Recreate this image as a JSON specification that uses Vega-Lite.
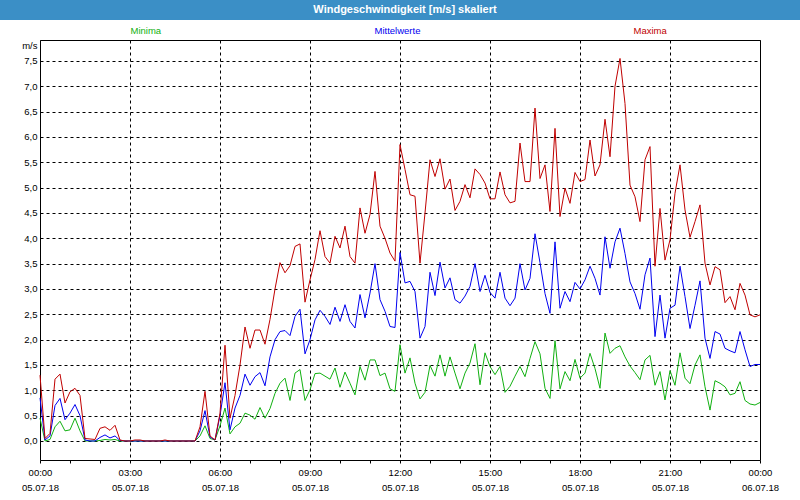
{
  "$schema": "https://vega.github.io/schema/vega-lite/v6.json",
  "autosize": {"type": "pad"},
  "padding": 0,
  "background": "white",
  "bounds": "flush",
  "center": true,
  "spacing": 20,
  "config": {"font": "Liberation Sans", "view": {"stroke": null}},
  "vconcat": [
    {
      "width": 800,
      "height": 20,
      "view": {"fill": "#3b8fc6", "stroke": null},
      "data": {"values": [{"title": "Windgeschwindigkeit [m/s] skaliert"}]},
      "mark": {"type": "text", "color": "white", "font": "Liberation Sans", "fontSize": 11, "fontWeight": "bold", "align": "center", "baseline": "middle", "dx": 5},
      "encoding": {"text": {"field": "title"}}
    },
    {
      "width": 720,
      "height": 420,
      "view": {"fill": "white", "stroke": "black", "strokeWidth": 1},
      "data": {
        "values": [
          {"m":0,"Minima":0.45,"Mittelwerte":0.85,"Maxima":1.30},
          {"m":10,"Minima":0.00,"Mittelwerte":0.02,"Maxima":0.05},
          {"m":20,"Minima":0.03,"Mittelwerte":0.10,"Maxima":0.15},
          {"m":30,"Minima":0.28,"Mittelwerte":0.70,"Maxima":1.22},
          {"m":40,"Minima":0.39,"Mittelwerte":0.84,"Maxima":1.32},
          {"m":50,"Minima":0.20,"Mittelwerte":0.42,"Maxima":0.75},
          {"m":60,"Minima":0.22,"Mittelwerte":0.55,"Maxima":0.97},
          {"m":70,"Minima":0.45,"Mittelwerte":0.72,"Maxima":1.04},
          {"m":80,"Minima":0.20,"Mittelwerte":0.50,"Maxima":0.90},
          {"m":90,"Minima":0.00,"Mittelwerte":0.02,"Maxima":0.05},
          {"m":100,"Minima":0.00,"Mittelwerte":0.00,"Maxima":0.04},
          {"m":110,"Minima":0.00,"Mittelwerte":0.00,"Maxima":0.03},
          {"m":120,"Minima":0.01,"Mittelwerte":0.07,"Maxima":0.25},
          {"m":130,"Minima":0.03,"Mittelwerte":0.12,"Maxima":0.28},
          {"m":140,"Minima":0.02,"Mittelwerte":0.06,"Maxima":0.21},
          {"m":150,"Minima":0.03,"Mittelwerte":0.10,"Maxima":0.31},
          {"m":160,"Minima":0.00,"Mittelwerte":0.01,"Maxima":0.02},
          {"m":170,"Minima":0.00,"Mittelwerte":0.00,"Maxima":0.00},
          {"m":180,"Minima":0.00,"Mittelwerte":0.00,"Maxima":0.00},
          {"m":190,"Minima":0.00,"Mittelwerte":0.00,"Maxima":0.02},
          {"m":200,"Minima":0.00,"Mittelwerte":0.00,"Maxima":0.02},
          {"m":210,"Minima":0.00,"Mittelwerte":0.00,"Maxima":0.00},
          {"m":220,"Minima":0.00,"Mittelwerte":0.00,"Maxima":0.00},
          {"m":230,"Minima":0.00,"Mittelwerte":0.00,"Maxima":0.00},
          {"m":240,"Minima":0.00,"Mittelwerte":0.00,"Maxima":0.00},
          {"m":250,"Minima":0.00,"Mittelwerte":0.00,"Maxima":0.02},
          {"m":260,"Minima":0.00,"Mittelwerte":0.00,"Maxima":0.00},
          {"m":270,"Minima":0.00,"Mittelwerte":0.00,"Maxima":0.00},
          {"m":280,"Minima":0.00,"Mittelwerte":0.00,"Maxima":0.00},
          {"m":290,"Minima":0.00,"Mittelwerte":0.00,"Maxima":0.00},
          {"m":300,"Minima":0.00,"Mittelwerte":0.00,"Maxima":0.00},
          {"m":310,"Minima":0.00,"Mittelwerte":0.00,"Maxima":0.00},
          {"m":320,"Minima":0.10,"Mittelwerte":0.20,"Maxima":0.28},
          {"m":330,"Minima":0.30,"Mittelwerte":0.60,"Maxima":0.98},
          {"m":340,"Minima":0.05,"Mittelwerte":0.08,"Maxima":0.10},
          {"m":350,"Minima":0.02,"Mittelwerte":0.02,"Maxima":0.02},
          {"m":360,"Minima":0.30,"Mittelwerte":0.50,"Maxima":0.55},
          {"m":370,"Minima":0.65,"Mittelwerte":1.15,"Maxima":1.89},
          {"m":380,"Minima":0.14,"Mittelwerte":0.22,"Maxima":0.45},
          {"m":390,"Minima":0.28,"Mittelwerte":0.65,"Maxima":0.90},
          {"m":400,"Minima":0.35,"Mittelwerte":0.90,"Maxima":1.50},
          {"m":410,"Minima":0.55,"Mittelwerte":1.32,"Maxima":2.25},
          {"m":420,"Minima":0.51,"Mittelwerte":1.10,"Maxima":1.83},
          {"m":430,"Minima":0.43,"Mittelwerte":1.27,"Maxima":2.19},
          {"m":440,"Minima":0.66,"Mittelwerte":1.35,"Maxima":2.19},
          {"m":450,"Minima":0.45,"Mittelwerte":1.09,"Maxima":1.91},
          {"m":460,"Minima":0.64,"Mittelwerte":1.66,"Maxima":2.40},
          {"m":470,"Minima":0.94,"Mittelwerte":2.00,"Maxima":3.00},
          {"m":480,"Minima":1.14,"Mittelwerte":2.16,"Maxima":3.52},
          {"m":490,"Minima":1.24,"Mittelwerte":2.18,"Maxima":3.32},
          {"m":500,"Minima":0.80,"Mittelwerte":2.08,"Maxima":3.46},
          {"m":510,"Minima":1.34,"Mittelwerte":2.46,"Maxima":3.84},
          {"m":520,"Minima":1.41,"Mittelwerte":2.60,"Maxima":3.89},
          {"m":530,"Minima":0.80,"Mittelwerte":1.72,"Maxima":2.74},
          {"m":540,"Minima":1.01,"Mittelwerte":2.00,"Maxima":3.18},
          {"m":550,"Minima":1.33,"Mittelwerte":2.39,"Maxima":3.58},
          {"m":560,"Minima":1.34,"Mittelwerte":2.58,"Maxima":4.15},
          {"m":570,"Minima":1.28,"Mittelwerte":2.46,"Maxima":3.64},
          {"m":580,"Minima":1.22,"Mittelwerte":2.30,"Maxima":3.51},
          {"m":590,"Minima":1.44,"Mittelwerte":2.64,"Maxima":4.04},
          {"m":600,"Minima":1.06,"Mittelwerte":2.36,"Maxima":3.81},
          {"m":610,"Minima":1.36,"Mittelwerte":2.69,"Maxima":4.24},
          {"m":620,"Minima":1.14,"Mittelwerte":2.36,"Maxima":3.64},
          {"m":630,"Minima":0.91,"Mittelwerte":2.23,"Maxima":3.51},
          {"m":640,"Minima":1.47,"Mittelwerte":2.89,"Maxima":4.60},
          {"m":650,"Minima":1.20,"Mittelwerte":2.43,"Maxima":4.10},
          {"m":660,"Minima":1.60,"Mittelwerte":2.92,"Maxima":4.47},
          {"m":670,"Minima":1.60,"Mittelwerte":3.50,"Maxima":5.32},
          {"m":680,"Minima":1.29,"Mittelwerte":2.79,"Maxima":4.24},
          {"m":690,"Minima":1.34,"Mittelwerte":2.56,"Maxima":4.00},
          {"m":700,"Minima":1.03,"Mittelwerte":2.26,"Maxima":3.71},
          {"m":710,"Minima":0.98,"Mittelwerte":2.24,"Maxima":3.55},
          {"m":720,"Minima":1.90,"Mittelwerte":3.72,"Maxima":5.85},
          {"m":730,"Minima":1.34,"Mittelwerte":3.12,"Maxima":5.36},
          {"m":740,"Minima":1.64,"Mittelwerte":3.15,"Maxima":4.86},
          {"m":750,"Minima":1.14,"Mittelwerte":2.95,"Maxima":4.83},
          {"m":760,"Minima":0.83,"Mittelwerte":2.03,"Maxima":3.51},
          {"m":770,"Minima":0.96,"Mittelwerte":2.26,"Maxima":4.50},
          {"m":780,"Minima":1.49,"Mittelwerte":3.33,"Maxima":5.55},
          {"m":790,"Minima":1.28,"Mittelwerte":2.87,"Maxima":5.22},
          {"m":800,"Minima":1.70,"Mittelwerte":3.53,"Maxima":5.57},
          {"m":810,"Minima":1.28,"Mittelwerte":3.02,"Maxima":4.97},
          {"m":820,"Minima":1.66,"Mittelwerte":3.22,"Maxima":5.17},
          {"m":830,"Minima":1.34,"Mittelwerte":2.79,"Maxima":4.55},
          {"m":840,"Minima":1.03,"Mittelwerte":2.72,"Maxima":4.73},
          {"m":850,"Minima":1.34,"Mittelwerte":2.86,"Maxima":5.06},
          {"m":860,"Minima":1.54,"Mittelwerte":3.05,"Maxima":4.80},
          {"m":870,"Minima":1.92,"Mittelwerte":3.50,"Maxima":5.37},
          {"m":880,"Minima":1.11,"Mittelwerte":2.95,"Maxima":5.26},
          {"m":890,"Minima":1.74,"Mittelwerte":3.27,"Maxima":5.09},
          {"m":900,"Minima":1.47,"Mittelwerte":2.93,"Maxima":4.78},
          {"m":910,"Minima":1.31,"Mittelwerte":2.82,"Maxima":4.78},
          {"m":920,"Minima":1.47,"Mittelwerte":3.33,"Maxima":5.31},
          {"m":930,"Minima":0.96,"Mittelwerte":2.82,"Maxima":4.86},
          {"m":940,"Minima":1.08,"Mittelwerte":2.67,"Maxima":4.70},
          {"m":950,"Minima":1.28,"Mittelwerte":2.82,"Maxima":4.73},
          {"m":960,"Minima":1.47,"Mittelwerte":3.50,"Maxima":5.88},
          {"m":970,"Minima":1.27,"Mittelwerte":2.98,"Maxima":5.12},
          {"m":980,"Minima":1.63,"Mittelwerte":3.21,"Maxima":5.12},
          {"m":990,"Minima":1.96,"Mittelwerte":4.09,"Maxima":6.57},
          {"m":1000,"Minima":1.72,"Mittelwerte":3.52,"Maxima":5.18},
          {"m":1010,"Minima":1.04,"Mittelwerte":2.91,"Maxima":5.45},
          {"m":1020,"Minima":0.84,"Mittelwerte":2.52,"Maxima":4.53},
          {"m":1030,"Minima":1.98,"Mittelwerte":3.93,"Maxima":6.17},
          {"m":1040,"Minima":1.03,"Mittelwerte":2.62,"Maxima":4.43},
          {"m":1050,"Minima":1.37,"Mittelwerte":2.95,"Maxima":4.99},
          {"m":1060,"Minima":1.19,"Mittelwerte":2.75,"Maxima":4.69},
          {"m":1070,"Minima":1.61,"Mittelwerte":3.13,"Maxima":5.30},
          {"m":1080,"Minima":1.24,"Mittelwerte":3.00,"Maxima":5.12},
          {"m":1090,"Minima":1.34,"Mittelwerte":3.18,"Maxima":5.16},
          {"m":1100,"Minima":1.73,"Mittelwerte":3.45,"Maxima":5.94},
          {"m":1110,"Minima":1.43,"Mittelwerte":3.21,"Maxima":5.23},
          {"m":1120,"Minima":1.04,"Mittelwerte":2.88,"Maxima":5.45},
          {"m":1130,"Minima":2.13,"Mittelwerte":4.03,"Maxima":6.35},
          {"m":1140,"Minima":1.73,"Mittelwerte":3.41,"Maxima":5.61},
          {"m":1150,"Minima":1.83,"Mittelwerte":3.93,"Maxima":7.00},
          {"m":1160,"Minima":1.88,"Mittelwerte":4.20,"Maxima":7.55},
          {"m":1170,"Minima":1.66,"Mittelwerte":3.70,"Maxima":6.66},
          {"m":1180,"Minima":1.48,"Mittelwerte":3.14,"Maxima":5.05},
          {"m":1190,"Minima":1.35,"Mittelwerte":2.91,"Maxima":4.82},
          {"m":1200,"Minima":1.21,"Mittelwerte":2.60,"Maxima":4.33},
          {"m":1210,"Minima":1.60,"Mittelwerte":3.28,"Maxima":5.55},
          {"m":1220,"Minima":1.69,"Mittelwerte":3.61,"Maxima":5.81},
          {"m":1230,"Minima":1.10,"Mittelwerte":2.06,"Maxima":3.45},
          {"m":1240,"Minima":1.37,"Mittelwerte":2.88,"Maxima":4.59},
          {"m":1250,"Minima":0.81,"Mittelwerte":2.03,"Maxima":3.57},
          {"m":1260,"Minima":1.39,"Mittelwerte":2.62,"Maxima":3.97},
          {"m":1270,"Minima":1.10,"Mittelwerte":2.68,"Maxima":4.89},
          {"m":1280,"Minima":1.74,"Mittelwerte":3.45,"Maxima":5.45},
          {"m":1290,"Minima":1.24,"Mittelwerte":2.85,"Maxima":4.56},
          {"m":1300,"Minima":1.13,"Mittelwerte":2.22,"Maxima":4.02},
          {"m":1310,"Minima":1.50,"Mittelwerte":2.68,"Maxima":4.33},
          {"m":1320,"Minima":1.70,"Mittelwerte":3.16,"Maxima":4.66},
          {"m":1330,"Minima":1.07,"Mittelwerte":2.03,"Maxima":3.51},
          {"m":1340,"Minima":0.61,"Mittelwerte":1.63,"Maxima":3.08},
          {"m":1350,"Minima":1.19,"Mittelwerte":2.16,"Maxima":3.44},
          {"m":1360,"Minima":1.14,"Mittelwerte":2.11,"Maxima":3.38},
          {"m":1370,"Minima":1.07,"Mittelwerte":1.83,"Maxima":2.73},
          {"m":1380,"Minima":0.91,"Mittelwerte":1.78,"Maxima":2.85},
          {"m":1390,"Minima":0.94,"Mittelwerte":1.74,"Maxima":2.59},
          {"m":1400,"Minima":1.17,"Mittelwerte":2.16,"Maxima":3.11},
          {"m":1410,"Minima":0.80,"Mittelwerte":1.80,"Maxima":2.88},
          {"m":1420,"Minima":0.73,"Mittelwerte":1.47,"Maxima":2.49},
          {"m":1430,"Minima":0.71,"Mittelwerte":1.51,"Maxima":2.45},
          {"m":1440,"Minima":0.76,"Mittelwerte":1.51,"Maxima":2.49}
        ]
      },
      "transform": [{"fold": ["Minima", "Mittelwerte", "Maxima"], "as": ["Reihe", "v"]}],
      "mark": {"type": "line", "strokeWidth": 1},
      "encoding": {
        "x": {
          "field": "m",
          "type": "quantitative",
          "scale": {"domain": [0, 1440], "nice": false, "zero": false},
          "axis": {
            "title": null,
            "values": [0, 60, 120, 180, 240, 300, 360, 420, 480, 540, 600, 660, 720, 780, 840, 900, 960, 1020, 1080, 1140, 1200, 1260, 1320, 1380, 1440],
            "domain": false,
            "ticks": true,
            "tickSize": 3,
            "tickColor": "black",
            "grid": true,
            "gridColor": "black",
            "gridDash": [3, 3],
            "gridWidth": 1,
            "gridOpacity": {"condition": {"test": "datum.value % 180 === 0", "value": 1}, "value": 0},
            "labelExpr": "datum.value % 180 === 0 ? [(datum.value % 1440 < 600 ? '0' : '') + floor((datum.value % 1440) / 60) + ':00', datum.value === 1440 ? '06.07.18' : '05.07.18'] : ''",
            "labelOverlap": false,
            "labelFlush": false,
            "labelBound": false,
            "labelFont": "Liberation Sans",
            "labelFontSize": 9.5,
            "labelColor": "black",
            "labelPadding": 4,
            "labelLineHeight": 15
          }
        },
        "y": {
          "field": "v",
          "type": "quantitative",
          "scale": {"domain": [-0.375, 7.914], "nice": false, "zero": false},
          "axis": {
            "title": "m/s",
            "titleAngle": 0,
            "titleAlign": "right",
            "titleBaseline": "middle",
            "titleX": -3,
            "titleY": 5,
            "titleFont": "Liberation Sans",
            "titleFontSize": 9.5,
            "titleFontWeight": "normal",
            "titleColor": "black",
            "values": [0, 0.5, 1, 1.5, 2, 2.5, 3, 3.5, 4, 4.5, 5, 5.5, 6, 6.5, 7, 7.5],
            "labelExpr": "replace(format(datum.value, '.1f'), '.', ',')",
            "domain": false,
            "ticks": false,
            "labelPadding": 3,
            "grid": true,
            "gridColor": "black",
            "gridDash": [3, 3],
            "gridOpacity": 1,
            "gridWidth": 1,
            "labelFont": "Liberation Sans",
            "labelFontSize": 9.5,
            "labelColor": "black"
          }
        },
        "color": {
          "field": "Reihe",
          "type": "nominal",
          "scale": {"domain": ["Minima", "Mittelwerte", "Maxima"], "range": ["#10b010", "#0000f0", "#c00000"]},
          "legend": {
            "orient": "none",
            "legendX": 121,
            "legendY": 26,
            "direction": "horizontal",
            "title": null,
            "symbolSize": 1,
            "symbolStrokeWidth": 0,
            "symbolOpacity": 0,
            "labelOffset": 0,
            "columnPadding": 203,
            "gridAlign": "none",
            "padding": 0,
            "labelFont": "Liberation Sans",
            "labelFontSize": 9.5,
            "labelBaseline": "middle",
            "encode": {"labels": {"update": {"fill": {"scale": "color", "field": "value"}}}}
          }
        }
      }
    }
  ]
}
